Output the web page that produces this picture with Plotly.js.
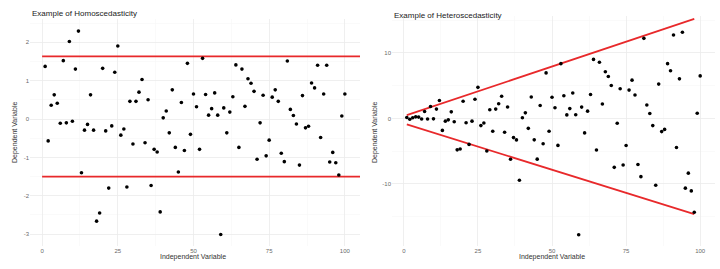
<!DOCTYPE html>
<html>
<head>
<meta charset="utf-8">
<script src="https://cdn.plot.ly/plotly-3.0.1.min.js"></script>
<style>html,body{margin:0;padding:0;background:#fff;}#chart{width:720px;height:269px;}</style>
</head>
<body>
<div id="chart"></div>
<script>
// Independent variable (shared by both panels)
const xIndex = [1,2,3,4,5,6,7,8,9,10,11,12,13,14,15,16,17,18,19,20,21,22,23,24,25,26,27,28,29,30,31,32,33,34,35,36,37,38,39,40,41,42,43,44,45,46,47,48,49,50,51,52,53,54,55,56,57,58,59,60,61,62,63,64,65,66,67,68,69,70,71,72,73,74,75,76,77,78,79,80,81,82,83,84,85,86,87,88,89,90,91,92,93,94,95,96,97,98,99,100];

// Homoscedasticity panel: dependent variable values
const homoY = [1.37,-0.57,0.36,0.63,0.41,-0.11,1.52,-0.10,2.02,-0.06,1.30,2.29,-1.40,-0.29,-0.14,0.63,-0.29,-2.66,-2.45,1.32,-0.31,-1.80,-0.18,1.22,1.90,-0.42,-0.26,-1.77,0.46,-0.65,0.46,0.70,1.03,-0.62,0.50,-1.73,-0.79,-0.86,-2.42,0.03,0.21,-0.36,0.76,-0.74,-1.38,0.43,-0.82,1.45,-0.40,0.65,0.32,-0.79,1.58,0.64,0.10,0.27,0.68,0.10,-3.01,0.29,-0.36,0.18,0.58,1.41,-0.74,1.30,0.33,1.05,0.93,0.72,-1.05,-0.10,0.62,-0.96,-0.55,0.57,0.76,0.46,-0.89,-1.11,1.51,0.25,0.09,-0.13,-1.20,0.61,-0.23,-0.19,0.94,0.81,1.40,-0.48,0.65,1.40,-1.12,-0.87,-1.14,-1.46,0.08,0.65];

// Heteroscedasticity panel: dependent variable values
const heteroY = [0.14,-0.11,0.11,0.25,0.21,-0.07,1.06,-0.08,1.82,-0.06,1.43,2.75,-1.82,-0.41,-0.21,1.01,-0.49,-4.79,-4.66,2.64,-0.65,-3.96,-0.41,2.93,4.75,-1.09,-0.70,-4.96,1.33,-1.95,1.43,2.24,3.40,-2.11,1.75,-6.23,-2.92,-3.27,-9.44,0.12,0.86,-1.51,3.27,-3.26,-6.21,1.98,-3.85,6.96,-1.96,3.25,1.63,-4.11,8.37,3.46,0.55,1.51,3.88,0.58,-17.76,1.74,-2.20,1.12,3.65,9.02,-4.81,8.58,2.21,7.14,6.42,5.04,-7.46,-0.72,4.53,-7.10,-4.13,4.33,5.85,3.59,-7.03,-8.88,12.23,2.05,0.75,-1.09,-10.20,5.25,-2.00,-1.67,8.37,7.29,12.74,-4.42,6.05,13.16,-10.64,-8.35,-11.06,-14.31,0.79,6.50];

// Horizontal reference lines (homoscedasticity)
const homoLineX = [0, 105];
const homoUpper = [1.63, 1.63];
const homoLower = [-1.50, -1.50];

// Fan lines (heteroscedasticity)
const fanX = [1, 98];
const fanUpper = [0.5, 15.2];
const fanLower = [-0.9, -14.6];

// Tick labels
const xTicks = [0,25,50,75,100];
const homoYTicks = [-3,-2,-1,0,1,2];
const heteroYTicks = [-10,0,10];

const titles = ["Example of Homoscedasticity", "Example of Heteroscedasticity"];
const xTitle = "Independent Variable";
const yTitle = "Dependent Variable";

const ptStyle = {color:'#000000', size:3.6, symbol:'circle'};
const redLine = {color:'#e8292b', width:1.8};

const traces = [
  {x:homoLineX, y:homoUpper, mode:'lines', line:redLine, xaxis:'x', yaxis:'y', hoverinfo:'skip'},
  {x:homoLineX, y:homoLower, mode:'lines', line:redLine, xaxis:'x', yaxis:'y', hoverinfo:'skip'},
  {x:xIndex, y:homoY, mode:'markers', marker:ptStyle, xaxis:'x', yaxis:'y'},
  {x:fanX, y:fanUpper, mode:'lines', line:redLine, xaxis:'x2', yaxis:'y2', hoverinfo:'skip'},
  {x:fanX, y:fanLower, mode:'lines', line:redLine, xaxis:'x2', yaxis:'y2', hoverinfo:'skip'},
  {x:xIndex, y:heteroY, mode:'markers', marker:ptStyle, xaxis:'x2', yaxis:'y2'}
];

const tickFont = {family:'Liberation Sans, Arial, sans-serif', size:6, color:'#6a6a6a'};
const gridCol = '#ebebeb';
const minorGrid = '#f6f6f6';

function xax(domain){
  return {domain:domain, range:[-4,105], tickvals:xTicks, ticktext:xTicks.map(String),
    showgrid:true, gridcolor:gridCol, gridwidth:0.8, zeroline:false, showline:false, ticks:'',
    tickfont:tickFont, ticklen:0,
    minor:{tickvals:[12.5,37.5,62.5,87.5], showgrid:true, gridcolor:minorGrid, gridwidth:0.6}};
}
function yax(domain, range, ticks, minorVals){
  return {domain:domain, range:range, tickvals:ticks, ticktext:ticks.map(String),
    showgrid:true, gridcolor:gridCol, gridwidth:0.8, zeroline:false, showline:false, ticks:'',
    tickfont:tickFont,
    minor:{tickvals:minorVals, showgrid:true, gridcolor:minorGrid, gridwidth:0.6}};
}

const W = 720, H = 269;
const layout = {
  width:W, height:H, margin:{l:0,r:0,t:0,b:0}, showlegend:false,
  paper_bgcolor:'#ffffff', plot_bgcolor:'#ffffff',
  font:{family:'Liberation Sans, Arial, sans-serif'},
  xaxis: xax([30/W, 360/W]),
  yaxis: Object.assign(yax([(H-245.7)/H, (H-19.2)/H], [-3.3,2.6], homoYTicks, [-2.5,-1.5,-0.5,0.5,1.5,2.5]), {anchor:'x'}),
  xaxis2: Object.assign(xax([392/W, 715/W]), {anchor:'y2'}),
  yaxis2: Object.assign(yax([(H-246.2)/H, (H-16.3)/H], [-19.5,15.6], heteroYTicks, [-15,-5,5,15]), {anchor:'x2'}),
  annotations:[
    {text:titles[0], xref:'paper', yref:'paper', x:30/W, y:(H-13)/H, xanchor:'left', yanchor:'middle', showarrow:false, font:{size:8, color:'#222'}},
    {text:titles[1], xref:'paper', yref:'paper', x:392/W, y:(H-16)/H, xanchor:'left', yanchor:'middle', showarrow:false, font:{size:8, color:'#222'}},
    {text:xTitle, xref:'paper', yref:'paper', x:193/W, y:(H-257)/H, xanchor:'center', yanchor:'middle', showarrow:false, font:{size:7, color:'#333'}},
    {text:xTitle, xref:'paper', yref:'paper', x:552/W, y:(H-257)/H, xanchor:'center', yanchor:'middle', showarrow:false, font:{size:7, color:'#333'}},
    {text:yTitle, xref:'paper', yref:'paper', x:15/W, y:(H-133)/H, xanchor:'center', yanchor:'middle', textangle:-90, showarrow:false, font:{size:7, color:'#333'}},
    {text:yTitle, xref:'paper', yref:'paper', x:375/W, y:(H-133)/H, xanchor:'center', yanchor:'middle', textangle:-90, showarrow:false, font:{size:7, color:'#333'}}
  ]
};

Plotly.newPlot('chart', traces, layout, {staticPlot:true, displayModeBar:false});
</script>
</body>
</html>
